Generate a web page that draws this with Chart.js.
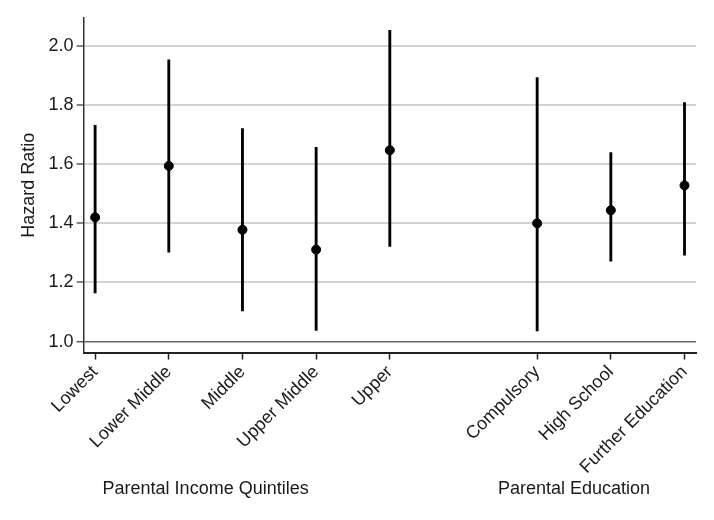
<!DOCTYPE html>
<html>
<head>
<meta charset="utf-8">
<script src="https://cdn.jsdelivr.net/npm/chart.js@4.4.1/dist/chart.umd.min.js"></script>
<style>
  html, body { margin: 0; padding: 0; background: #fff; }
  #wrap { width: 714px; height: 520px; }
</style>
</head>
<body>
<div id="wrap"><canvas id="myChart"></canvas></div>
<script>
// Hazard ratios with 95% confidence intervals.
const incomeCats = ["Lowest", "Lower Middle", "Middle", "Upper Middle", "Upper"];
const educationCats = ["Compulsory", "High School", "Further Education"];
const groupTitles = ["Parental Income Quintiles", "Parental Education"];

const hazardRatio = [1.42, 1.594, 1.378, 1.311, 1.647, 1.40, 1.444, 1.528];
const lowerCI = [1.165, 1.302, 1.104, 1.038, 1.322, 1.036, 1.272, 1.292];
const upperCI = [1.731, 1.953, 1.72, 1.657, 2.052, 1.893, 1.639, 1.808];

const yTicks = [1.0, 1.2, 1.4, 1.6, 1.8, 2.0];

// one empty slot between the two groups
const slots = [];
incomeCats.forEach((c, i) => slots.push(i));
educationCats.forEach((c, i) => slots.push(incomeCats.length + 1 + i));
const allCats = incomeCats.concat(educationCats);
const labelAt = {};
slots.forEach((s, i) => { labelAt[s] = allCats[i]; });

const FONT = "'Liberation Sans', Arial, Helvetica, sans-serif";
const INK = "#1a1a1a";

// group captions under the rotated tick labels
const groupLabels = {
  id: "groupLabels",
  afterDraw(chart) {
    const x = chart.scales.x;
    const ctx = chart.ctx;
    const mids = [
      (slots[0] + slots[incomeCats.length - 1]) / 2 - 0.5,
      (slots[incomeCats.length] + slots[slots.length - 1]) / 2 - 0.5
    ];
    ctx.save();
    ctx.font = "18px " + FONT;
    ctx.fillStyle = INK;
    ctx.textAlign = "center";
    ctx.textBaseline = "middle";
    mids.forEach((m, i) => ctx.fillText(groupTitles[i], x.getPixelForValue(m), 489));
    ctx.restore();
  }
};

new Chart(document.getElementById("myChart"), {
  type: "bar",
  data: {
    datasets: [
      {
        type: "bar",
        data: slots.map((s, i) => ({ x: s, y: [lowerCI[i], upperCI[i]] })),
        backgroundColor: "#000",
        borderWidth: 0,
        barThickness: 2.2,
        order: 2
      },
      {
        type: "scatter",
        data: slots.map((s, i) => ({ x: s, y: hazardRatio[i] })),
        backgroundColor: "#000",
        borderColor: "#000",
        pointRadius: 4.5,
        pointHoverRadius: 4.5,
        order: 1
      }
    ]
  },
  options: {
    responsive: true,
    maintainAspectRatio: false,
    animation: false,
    layout: { padding: { left: 18, right: 18, top: 18, bottom: 40 } },
    plugins: {
      legend: { display: false },
      tooltip: { enabled: false }
    },
    scales: {
      x: {
        type: "linear",
        min: -0.156,
        max: 8.156,
        offset: false,
        afterBuildTicks: (axis) => { axis.ticks = slots.map(v => ({ value: v })); },
        ticks: {
          autoSkip: false,
          maxRotation: 45,
          minRotation: 45,
          padding: 2,
          color: INK,
          font: { family: FONT, size: 18 },
          callback: (v) => labelAt[v] || ""
        },
        grid: {
          offset: false,
          drawOnChartArea: false,
          drawTicks: true,
          tickLength: 7,
          tickColor: "#222",
          tickWidth: 1.5
        },
        border: { color: "#222", width: 2 }
      },
      y: {
        min: 0.963,
        max: 2.094,
        afterBuildTicks: (axis) => { axis.ticks = yTicks.map(v => ({ value: v })); },
        ticks: {
          padding: 3,
          color: INK,
          font: { family: FONT, size: 18 },
          callback: (v) => Number(v).toFixed(1)
        },
        grid: {
          color: (c) => (c.tick && Math.abs(c.tick.value - 1) < 1e-9 ? "#666" : "#d2d2d2"),
          lineWidth: (c) => (c.tick && Math.abs(c.tick.value - 1) < 1e-9 ? 1.5 : 2),
          tickLength: 7,
          tickColor: "#333",
          tickWidth: 1.2
        },
        border: { color: "#333", width: 1.5 },
        title: {
          display: true,
          text: "Hazard Ratio",
          color: INK,
          font: { family: FONT, size: 18 },
          padding: { top: 0, bottom: 6 }
        }
      }
    }
  },
  plugins: [groupLabels]
});
</script>
</body>
</html>
